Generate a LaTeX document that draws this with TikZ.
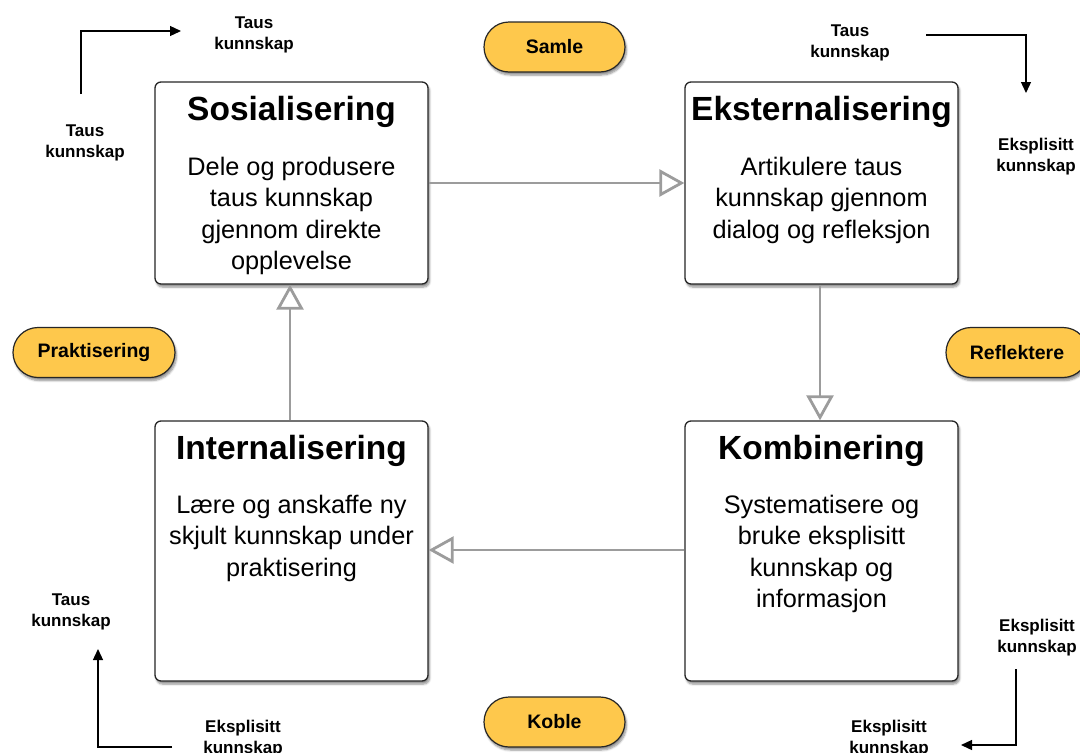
\documentclass[tikz,border=0pt]{standalone}
\usepackage{fontspec}
\setmainfont{Liberation Sans}
\usetikzlibrary{arrows.meta,shadows.blur}
\definecolor{pillyellow}{HTML}{FEC84C}
\definecolor{flowgray}{HTML}{9C9C9C}
\tikzset{
  box/.style={draw=black!85, line width=1.3pt, fill=white, rounded corners=6pt,
    minimum width=273pt, minimum height=#1, inner sep=0pt,
    blur shadow={shadow xshift=1.5pt, shadow yshift=-3pt, shadow blur steps=6, shadow opacity=45}},
  pill/.style={draw=black!85, line width=1.2pt, fill=pillyellow, rounded corners=25pt,
    minimum width=#1, minimum height=50pt, inner sep=0pt,
    font=\fontsize{19.5}{21}\selectfont\bfseries,
    blur shadow={shadow xshift=1.5pt, shadow yshift=-3pt, shadow blur steps=6, shadow opacity=45}},
  title/.style={font=\fontsize{33.5}{36}\selectfont\bfseries, inner sep=0pt},
  body/.style={font=\fontsize{25.3}{31.3}\selectfont, align=center, inner sep=0pt, anchor=north},
  small/.style={font=\fontsize{17}{21}\selectfont\bfseries, align=center, inner sep=0pt},
  flow/.style={draw=flowgray, line width=2.8pt, -{Triangle[open, length=25pt, width=27pt, line width=2.8pt]}},
  knows/.style={draw=black, line width=1.3pt, -{Triangle[length=11pt, width=10pt]}}
}
\begin{document}
\begin{tikzpicture}[x=1pt,y=-1pt]
\useasboundingbox (0,0) rectangle (1080,753);
% boxes
\node[box=202pt] (sos) at (291.5,183) {};
\node[box=202pt] (eks) at (821.5,183) {};
\node[box=260pt] (int) at (291.5,551) {};
\node[box=260pt] (kom) at (821.5,551) {};
% titles
\node[title] (sost) at (291.5,112) {Sosialisering};
\node[title] (ekst) at (821.5,112) {Eksternalisering};
\node[title] (intt) at (291.5,451) {Internalisering};
\node[title] (komt) at (821.5,451) {Kombinering};
% bodies
\node[body] (sosb) at (291.5,157) {Dele og produsere\\taus kunnskap\\gjennom direkte\\opplevelse};
\node[body] (eksb) at (821.5,157) {Artikulere taus\\kunnskap gjennom\\dialog og refleksjon};
\node[body] (intb) at (291.5,495) {Lære og anskaffe ny\\skjult kunnskap under\\praktisering};
\node[body] (komb) at (821.5,495) {Systematisere og\\bruke eksplisitt\\kunnskap og\\informasjon};
% pills
\node[pill=141pt] (samle) at (554.5,47) {Samle};
\node[pill=162pt] (prak) at (94,352.5) {Praktisering};
\node[pill=142pt] (refl) at (1017,352.5) {Reflektere};
\node[pill=141pt] (koble) at (554.5,722) {Koble};
% flow arrows
\draw[flow] (sos.east |- 0,183) -- (eks.west |- 0,183);
\draw[flow] (eks.south -| 820,0) -- (kom.north -| 820,0);
\draw[flow] (kom.west |- 0,550) -- (int.east |- 0,550);
\draw[flow] (int.north -| 290,0) -- (sos.south -| 290,0);
% corner labels
\node[small] (tl1) at (85,143) {Taus\\kunnskap};
\node[small] (tl2) at (254,35) {Taus\\kunnskap};
\node[small] (tr1) at (850,43) {Taus\\kunnskap};
\node[small] (tr2) at (1036,157) {Eksplisitt\\kunnskap};
\node[small] (bl1) at (71,612) {Taus\\kunnskap};
\node[small] (bl2) at (243,739) {Eksplisitt\\kunnskap};
\node[small] (br1) at (1037,638) {Eksplisitt\\kunnskap};
\node[small] (br2) at (889,739) {Eksplisitt\\kunnskap};
% corner coordinates
\coordinate (tla) at (81,94);
\coordinate (tlb) at (181,31);
\coordinate (tra) at (926,35);
\coordinate (trb) at (1026,93);
\coordinate (bla) at (172,747);
\coordinate (blb) at (98,649);
\coordinate (bra) at (1016,669);
\coordinate (brb) at (961,745);
\draw[knows] (tla) |- (tlb);
\draw[knows] (tra) -| (trb);
\draw[knows] (bla) -| (blb);
\draw[knows] (bra) |- (brb);
\end{tikzpicture}
\end{document}
